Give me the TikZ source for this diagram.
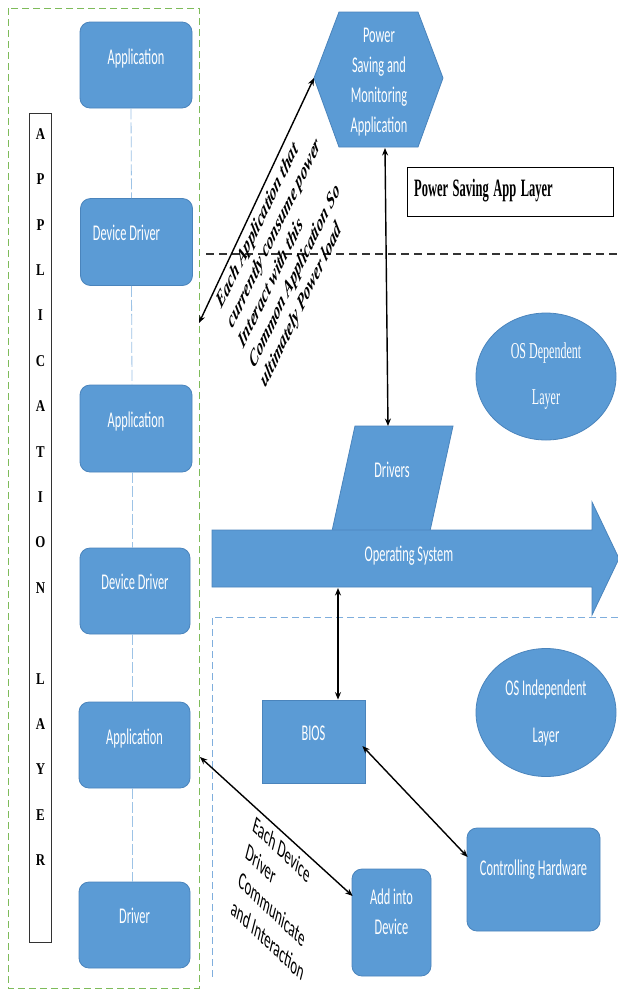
\documentclass[tikz,border=0pt]{standalone}
\usepackage{fontspec}
\setmainfont{Liberation Serif}
\newfontfamily\boxfont[FakeStretch=0.55]{Carlito}
\newfontfamily\rotsans{Carlito}
\newfontfamily\serfont[FakeStretch=0.53]{Liberation Serif}
\newfontfamily\psfont[FakeStretch=0.5]{Liberation Serif}
\newfontfamily\letfont[FakeStretch=0.78]{Liberation Serif}
\usetikzlibrary{arrows.meta,shapes.geometric}
\definecolor{bfill}{HTML}{5B9BD5}
\definecolor{bdraw}{HTML}{4A84BC}
\definecolor{lblue}{HTML}{9DC3E6}
\definecolor{mblue}{HTML}{7FAEDD}
\definecolor{gdash}{HTML}{7EBB5A}
\newcommand{\wsp}{\hspace*{4.5pt}}
\tikzset{
  bluebox/.style={draw=bdraw, line width=0.8pt, fill=bfill, text=white,
    font=\boxfont\fontsize{22.5}{27}\selectfont, inner sep=0pt},
  rbox/.style={bluebox, rounded corners=10pt, minimum width=112pt, minimum height=86pt},
  conn/.style={lblue, line width=0.8pt, dash pattern=on 11pt off 3pt},
  biarrow/.style={line width=1.4pt, {Stealth[length=7.5pt,width=6pt]}-{Stealth[length=7.5pt,width=6pt]}},
  whitetext/.style={text=white, font=\boxfont\fontsize{22.5}{27}\selectfont, inner sep=0pt},
}
\begin{document}
\begin{tikzpicture}[x=1pt,y=1pt]
\useasboundingbox (0,0) rectangle (618,-989);
\fill[white] (0,0) rectangle (618,-989);

% region borders
\draw[gdash, line width=1pt, dash pattern=on 7pt off 4pt] (8,-8) rectangle (199,-988);
\draw[mblue, line width=1pt, dash pattern=on 7pt off 4pt] (618,-617) -- (212,-617) -- (212,-980);
\draw[black!80, line width=1.5pt, dash pattern=on 8pt off 5pt] (206,-254) -- (618,-254);

% application layer label
\node[draw=black!80, line width=1.2pt, minimum width=22pt, minimum height=829pt, anchor=north west, inner sep=0pt] (albox) at (29,-113) {};
\node[font=\letfont\bfseries\fontsize{16.5}{45.4}\selectfont, align=center, inner sep=0pt] (altext) at (40.5,-497)
  {A\\P\\P\\L\\I\\C\\A\\T\\I\\O\\N\\[45.4pt]L\\A\\Y\\E\\R};

% left column
\node[rbox] (app1) at (136,-65) {\raisebox{17pt}{Application}};
\node[rbox, minimum height=87pt] (dd1) at (136.5,-242) {\raisebox{18pt}{\hspace*{-20pt}Device Driver}};
\node[rbox, minimum height=87pt] (app2) at (136,-428.5) {\raisebox{17pt}{Application}};
\node[rbox, minimum width=110pt] (dd2) at (135,-591) {\raisebox{18pt}{Device Driver}};
\node[rbox, minimum width=111pt] (app3) at (134.5,-745) {\raisebox{17pt}{Application}};
\node[rbox, minimum width=111pt] (drv) at (134.5,-925) {\raisebox{18pt}{Driver}};
\draw[conn] ([xshift=-5pt]app1.south) -- ([xshift=-5pt]dd1.north);
\draw[conn] ([xshift=-5pt]dd1.south) -- ([xshift=-4pt]app2.north);
\draw[conn] ([xshift=-4pt]app2.south) -- ([xshift=-3pt]dd2.north);
\draw[conn] ([xshift=-3pt]dd2.south) -- ([xshift=-2.5pt]app3.north);
\draw[conn] ([xshift=-2.5pt]app3.south) -- ([xshift=-2.5pt]drv.north);

% power saving hexagon
\path[bluebox] (339,-12) -- (418,-12) -- (443,-78) -- (418,-147) -- (339,-147) -- (314,-78) -- cycle;
\node[whitetext, align=center, font=\boxfont\fontsize{22.5}{30}\selectfont] (psm) at (379,-82)
  {Power\\Saving and\\Monitoring\\Application};
\coordinate (hexL) at (314,-78);
\coordinate (hexB) at (385,-148);
\coordinate (alR) at (199,-323);

% power saving app layer label
\node[draw=black, line width=1pt, fill=white, minimum width=206pt, minimum height=49pt, anchor=north west] (pslayer) at (407,-167) {};
\node[anchor=west, inner sep=0pt, font=\psfont\bfseries\fontsize{25}{28}\selectfont] (pstext) at ([xshift=7pt,yshift=1pt]pslayer.west)
  {Power\wsp Saving\wsp App\wsp Layer};

% OS dependent
\node[ellipse, bluebox, minimum width=140pt, minimum height=127pt, align=center,
  font=\serfont\fontsize{22.7}{46}\selectfont] (osdep) at (546,-376.5) {OS Dependent\\Layer};

% drivers
\path[bluebox] (355,-426) -- (453,-426) -- (430,-531) -- (332,-531) -- cycle;
\node[whitetext] (drivers) at (392,-470) {Drivers};
\coordinate (drvT) at (388,-426);

% operating system arrow
\path[bluebox] (212,-530) -- (592,-530) -- (592,-502) -- (619,-558.5) -- (592,-615) -- (592,-587) -- (212,-587) -- cycle;
\node[whitetext] (os) at (409,-556) {Operating System};
\coordinate (osB) at (338,-588);

% OS independent
\node[ellipse, bluebox, minimum width=140pt, minimum height=128pt, align=center,
  font=\boxfont\fontsize{22.5}{47}\selectfont] (osind) at (546,-712.5) {OS Independent\\Layer};

% BIOS, hardware, add into device
\node[bluebox, minimum width=103pt, minimum height=83pt] (bios) at (313.5,-741.5) {\raisebox{16pt}{BIOS}};
\node[bluebox, rounded corners=10pt, minimum width=133pt, minimum height=103pt] (ctrl) at (533.5,-879.5)
  {\raisebox{23pt}{Controlling Hardware}};
\node[bluebox, rounded corners=10pt, minimum width=79pt, minimum height=107pt,
  label={[whitetext, align=center, yshift=10.5pt, font=\boxfont\fontsize{22.5}{30}\selectfont]center:Add into\\Device}]
  (addin) at (391.5,-922.5) {};
\coordinate (app3R) at (200,-757);

% connectors
\draw[biarrow] (hexL) -- (alR);
\draw[biarrow] (hexB) -- (drvT);
\draw[biarrow] (osB) -- (bios.north -| osB);
\draw[biarrow] ([xshift=-3pt,yshift=-4.5pt]bios.east) -- ([xshift=1pt,yshift=22.5pt]ctrl.west);
\draw[biarrow] (app3R) -- ([xshift=1pt,yshift=26.5pt]addin.west);

% rotated annotations
\begin{scope}[shift={(221.7,-310)}, xscale=0.517, rotate=47]
  \begin{scope}[every node/.style={transform shape, anchor=base west, inner sep=0pt,
      font=\bfseries\itshape\fontsize{24}{29}\selectfont}]
    \node (ann1) at (0,0) {Each Application that};
    \node (ann2) at (0,-29) {currently consume power};
    \node (ann3) at (0,-58) {Interact with this};
    \node (ann4) at (0,-87) {Common Application So};
    \node (ann5) at (0,-116) {ultimately Power load};
  \end{scope}
\end{scope}
\begin{scope}[shift={(251.7,-830)}, xscale=0.52, rotate=-26.5]
  \begin{scope}[every node/.style={transform shape, anchor=base west, inner sep=0pt,
      font=\rotsans\fontsize{24.8}{31}\selectfont}]
    \node (dev1) at (0,0) {Each Device};
    \node (dev2) at (0,-31) {Driver};
    \node (dev3) at (0,-62) {Communicate};
    \node (dev4) at (0,-93) {and Interaction};
  \end{scope}
\end{scope}
\end{tikzpicture}
\end{document}
